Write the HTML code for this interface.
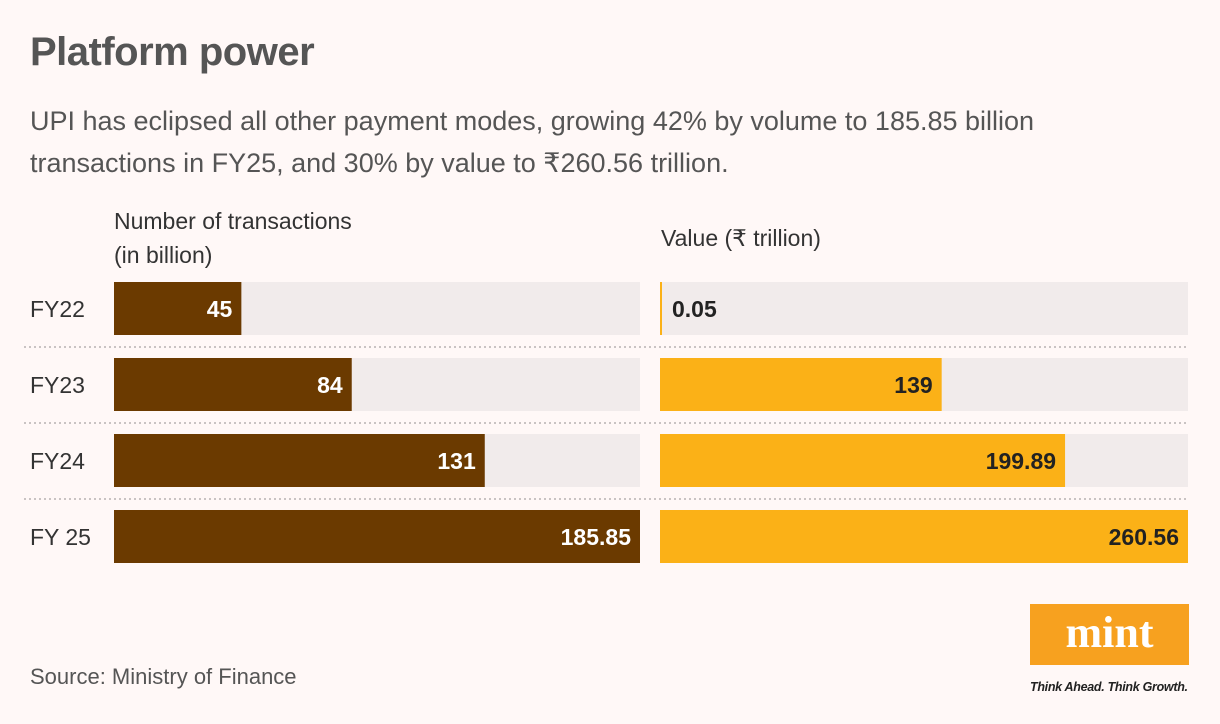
<!DOCTYPE html>
<html><head><meta charset="utf-8"><style>
body{margin:0;background:#fff8f7;font-family:"Liberation Sans",sans-serif;}
#wrap{position:relative;width:1220px;height:724px;overflow:hidden;background:#fff8f7;}
.t{position:absolute;color:#333;}
</style></head><body>
<div id="wrap">
<div class="t" style="left:30px;top:30px;font-size:40px;font-weight:bold;color:#555;letter-spacing:-0.5px">Platform power</div>
<div class="t" style="left:30px;top:100px;font-size:27px;line-height:42px;color:#555;width:1130px">UPI has eclipsed all other payment modes, growing 42% by volume to 185.85 billion transactions in FY25, and 30% by value to ₹260.56 trillion.</div>
<div class="t" style="left:114px;top:204px;font-size:23px;line-height:34px">Number of transactions<br>(in billion)</div>
<div class="t" style="left:661px;top:221px;font-size:23px;line-height:34px">Value (₹ trillion)</div>
<svg id="chart" width="1220" height="724" style="position:absolute;left:0;top:0"></svg>
<div style="position:absolute;left:1030px;top:604px;width:159px;height:61px;background:#f7a11f;color:#fff;font-family:'Liberation Serif',serif;font-weight:bold;font-size:44px;text-align:center;line-height:58px">mint</div>
<div class="t" style="left:1030px;top:680px;font-size:12.5px;font-style:italic;font-weight:bold;color:#222;letter-spacing:-0.3px">Think Ahead. Think Growth.</div>
<div class="t" style="left:30px;top:664px;font-size:22px;color:#555">Source: Ministry of Finance</div>
</div>
<script>
const categories=["FY22","FY23","FY24","FY 25"];
const volumes=[45,84,131,185.85];
const volumeLabels=["45","84","131","185.85"];
const values=[0.05,139,199.89,260.56];
const valueLabels=["0.05","139","199.89","260.56"];
const NS="http://www.w3.org/2000/svg";
const svg=document.getElementById('chart');
function mk(tag,attrs){const e=document.createElementNS(NS,tag);for(const k in attrs)e.setAttribute(k,attrs[k]);svg.appendChild(e);return e;}
const rowY=i=>282+i*76, rowH=53;
const xL=v=>v/185.85*526, xR=v=>v/260.56*528;
categories.forEach((c,i)=>{
  const y=rowY(i);
  let t=mk('text',{x:30,y:y+35,'font-size':23,fill:'#333'});t.textContent=c;
  
  
  let b=mk('rect',{x:114,y:y,width:526,height:rowH,fill:'#f1ebeb'});
  
  
  b=mk('rect',{x:660,y:y,width:528,height:rowH,fill:'#f1ebeb'});
  
  
  const wl=xL(volumes[i]);
  b=mk('rect',{x:114,y:y,width:wl,height:rowH,fill:'#6b3a00'});
  
  
  t=mk('text',{x:114+wl-9,y:y+35,'font-size':23,'font-weight':'bold',fill:'#fff','text-anchor':'end'});t.textContent=volumeLabels[i];
  
  
  const wr=Math.max(2,xR(values[i]));
  b=mk('rect',{x:660,y:y,width:wr,height:rowH,fill:'#fbb117'});
  
  
  const inside=wr>80;
  t=mk('text',{x:inside?660+wr-9:660+wr+10,y:y+35,'font-size':23,'font-weight':'bold',fill:'#222','text-anchor':inside?'end':'start'});t.textContent=valueLabels[i];
  
  
  if(i<categories.length-1){
    const l=mk('line',{x1:24,x2:1188,y1:y+65,y2:y+65,stroke:'#c9c3c3','stroke-width':2,'stroke-dasharray':'2 3'});
    
    
  }
});
</script>
</body></html>
